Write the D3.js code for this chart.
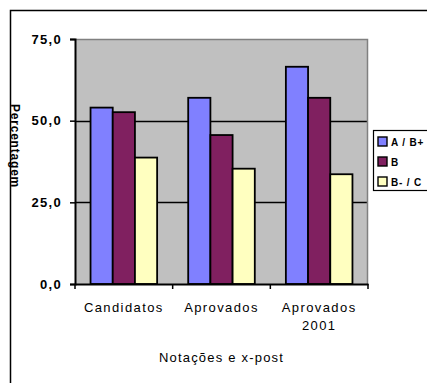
<!DOCTYPE html>
<html>
<head>
<meta charset="utf-8">
<script src="https://cdn.jsdelivr.net/npm/d3@7"></script>
<style>
  html, body { margin: 0; padding: 0; background: #fff; }
  svg { display: block; }
  text { font-family: "Liberation Sans", Arial, sans-serif; fill: #000; }
</style>
</head>
<body>
<svg id="chart" width="427" height="383"></svg>
<script>
// Categories (x axis) and series values (percent)
const categories = ["Candidatos", "Aprovados", "Aprovados\n2001"];
const seriesNames = ["A / B+", "B", "B- / C"];
const seriesAB = [54.0, 57.0, 66.5];
const seriesB = [52.6, 45.6, 57.0];
const seriesBC = [38.7, 35.3, 33.6];
const yTicks = [0, 25, 50, 75];
const colors = ["#8080FF", "#802060", "#FFFFC0"];

const values = [seriesAB, seriesB, seriesBC];

const svg = d3.select("#chart");

// Outer chart frame
svg.append("rect")
  .attr("x", 10.5).attr("y", 10.5)
  .attr("width", 440).attr("height", 400)
  .attr("fill", "#fff").attr("stroke", "#000").attr("stroke-width", 1.5);

const plot = { left: 75, top: 39, right: 368, bottom: 284 };

const x = d3.scaleBand()
  .domain(categories)
  .range([plot.left, plot.right]);

const xs = d3.scaleBand()
  .domain(d3.range(seriesNames.length))
  .range([0, x.bandwidth()])
  .paddingOuter(0.7).paddingInner(0);

const y = d3.scaleLinear().domain([0, 75]).range([plot.bottom, plot.top]);

// Plot background
svg.append("rect")
  .attr("x", plot.left).attr("y", plot.top)
  .attr("width", plot.right - plot.left).attr("height", plot.bottom - plot.top)
  .attr("fill", "#C0C0C0");

// Gridlines
svg.append("g")
  .selectAll("line")
  .data(yTicks.filter(d => d > 0 && d < 75))
  .join("line")
  .attr("x1", plot.left).attr("x2", plot.right)
  .attr("y1", d => Math.round(y(d)) + 0.5).attr("y2", d => Math.round(y(d)) + 0.5)
  .attr("stroke", "#000").attr("stroke-width", 1.5);

// Plot border (top and right in gray)
svg.append("path")
  .attr("d", `M${plot.left},${plot.top + 0.5}H${plot.right - 0.5}V${plot.bottom}`)
  .attr("fill", "none").attr("stroke", "#808080").attr("stroke-width", 1.5);

// Bars
const groups = svg.append("g")
  .selectAll("g")
  .data(categories)
  .join("g")
  .attr("transform", d => `translate(${x(d)},0)`);

groups.selectAll("rect")
  .data((d, i) => values.map((s, k) => ({ k, v: s[i] })))
  .join("rect")
  .attr("x", d => xs(d.k))
  .attr("y", d => y(d.v))
  .attr("width", xs.bandwidth())
  .attr("height", d => plot.bottom - y(d.v))
  .attr("fill", d => colors[d.k])
  .attr("stroke", "#000")
  .attr("stroke-width", 1.8);

// Y axis
const yAxis = svg.append("g")
  .attr("transform", `translate(${plot.left},0)`)
  .call(d3.axisLeft(y).tickValues(yTicks).tickSize(5).tickPadding(8)
    .tickFormat(d => d3.format(".1f")(d).replace(".", ",")));
yAxis.select(".domain").attr("stroke-width", 2);
yAxis.selectAll(".tick line").attr("stroke-width", 1.5);
yAxis.selectAll(".tick text")
  .attr("font-size", 13).attr("letter-spacing", 1.3).attr("font-weight", "bold");

// X axis
const xAxis = svg.append("g")
  .attr("transform", `translate(0,${plot.bottom})`)
  .call(d3.axisBottom(x).tickSize(0).tickFormat(""));
xAxis.select(".domain").attr("stroke-width", 2);

// Category boundary ticks
svg.append("g")
  .selectAll("line")
  .data(categories.map(c => x(c)).concat([plot.right]))
  .join("line")
  .attr("x1", d => d).attr("x2", d => d)
  .attr("y1", plot.bottom).attr("y2", plot.bottom + 5)
  .attr("stroke", "#000").attr("stroke-width", 1.5);

// Category labels (multi-line)
const catLabels = svg.append("g")
  .selectAll("text")
  .data(categories)
  .join("text")
  .attr("x", d => x(d) + x.bandwidth() / 2)
  .attr("y", 312)
  .attr("text-anchor", "middle")
  .attr("font-size", 13)
  .attr("letter-spacing", 1.4);
catLabels.selectAll("tspan")
  .data(d => d.split("\n"))
  .join("tspan")
  .attr("x", function () { return d3.select(this.parentNode).attr("x"); })
  .attr("dy", (d, i) => i === 0 ? 0 : 18)
  .text(d => d);

// Axis titles
svg.append("text")
  .attr("x", (plot.left + plot.right) / 2)
  .attr("y", 362)
  .attr("text-anchor", "middle")
  .attr("font-size", 13)
  .attr("letter-spacing", 1.2)
  .text("Notações e x-post");

svg.append("text")
  .attr("transform", "translate(11,146) rotate(90)")
  .attr("text-anchor", "middle")
  .attr("font-size", 12)
  .attr("font-weight", "bold")
  .attr("letter-spacing", 0.8)
  .text("Percentagem");

// Legend
const legend = svg.append("g").attr("transform", "translate(373,130)");
legend.append("rect")
  .attr("x", 0.5).attr("y", 0.5).attr("width", 70).attr("height", 60)
  .attr("fill", "#fff").attr("stroke", "#000").attr("stroke-width", 1.2);
const items = legend.selectAll("g.item")
  .data(seriesNames)
  .join("g")
  .attr("class", "item")
  .attr("transform", (d, i) => `translate(5,${7 + i * 20})`);
items.append("rect")
  .attr("width", 9).attr("height", 9)
  .attr("fill", (d, i) => colors[i])
  .attr("stroke", "#000").attr("stroke-width", 1.4);
items.append("text")
  .attr("x", 13).attr("y", 8.5)
  .attr("font-size", 10)
  .attr("font-weight", "bold")
  .attr("letter-spacing", 0.8)
  .text(d => d);
</script>
</body>
</html>
